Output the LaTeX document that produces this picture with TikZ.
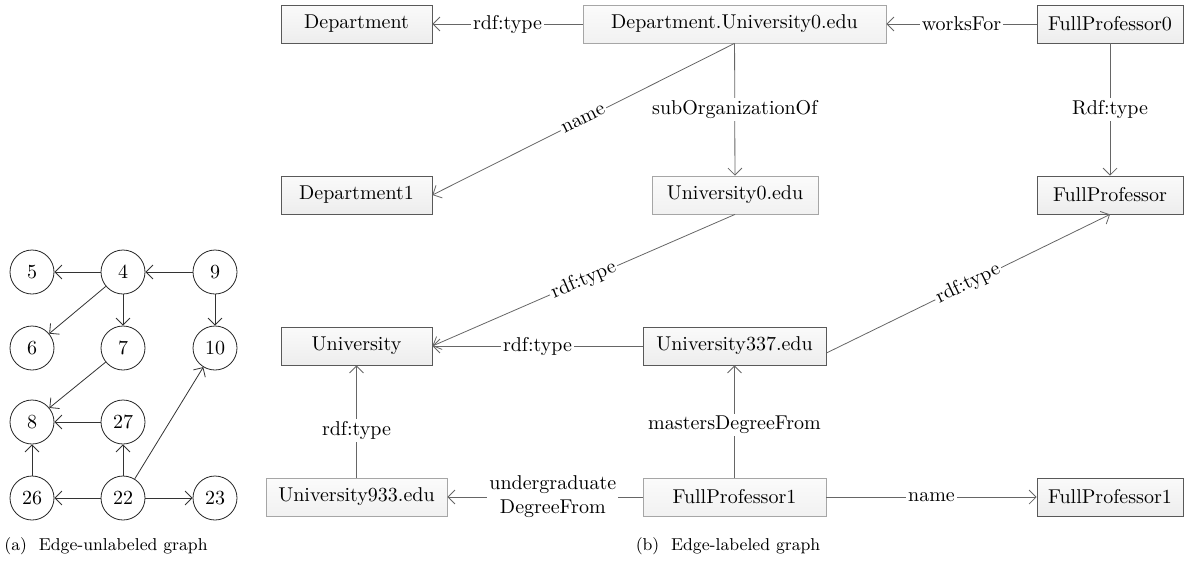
\documentclass[tikz,border=0pt]{standalone}
\usepackage{tikz}
\usetikzlibrary{arrows.meta}

\tikzset{
  vertex/.style={circle,draw=black!85,fill=white,minimum size=22pt,inner sep=0pt},
  res/.style={draw=black!65,top color=gray!4,bottom color=gray!14,minimum height=19pt,inner sep=2pt},
  lit/.style={draw=black!35,top color=gray!3,bottom color=gray!11,minimum height=19pt,inner sep=2pt},
  uedge/.style={draw=black!80,-{Straight Barb[length=3.5pt,width=7pt]}},
  ledge/.style={draw=black!60,-{Straight Barb[length=3.5pt,width=7pt]}},
  lab/.style={fill=white,inner sep=1pt},
  capt/.style={font=\fontsize{8.6}{10}\selectfont}
}

\begin{document}
\begin{tikzpicture}[x=0.5pt,y=-0.5pt]
\useasboundingbox (0,0) rectangle (1186,569);
% (a) edge-unlabeled graph
\node[vertex] (v5) at (32,272) {5};
\node[vertex] (v4) at (123,272) {4};
\node[vertex] (v9) at (215,272) {9};
\node[vertex] (v6) at (32,348) {6};
\node[vertex] (v7) at (123,348) {7};
\node[vertex] (v10) at (215,348) {10};
\node[vertex] (v8) at (32,422) {8};
\node[vertex] (v27) at (123,422) {27};
\node[vertex] (v26) at (32,498) {26};
\node[vertex] (v22) at (123,498) {22};
\node[vertex] (v23) at (215,498) {23};
\foreach \a/\b in {v4/v5,v9/v4,v4/v6,v4/v7,v9/v10,v7/v8,v27/v8,v26/v8,v22/v26,v22/v27,v22/v10,v22/v23}
  \draw[uedge] (\a) -- (\b);
\node[capt] (capa) at (106,546) {(a)\ \ Edge-unlabeled graph};

% (b) edge-labeled graph
\node[res,minimum width=75.5pt] (dept) at (356.5,24) {Department};
\node[lit,minimum width=151.5pt] (deptu) at (734.5,24) {Department.University0.edu};
\node[res,minimum width=73pt] (fp0) at (1110,24) {FullProfessor0};
\node[res,minimum width=75.5pt] (dept1) at (356.5,195) {Department1};
\node[lit,minimum width=83pt] (univ0) at (735,195) {University0.edu};
\node[res,minimum width=73pt] (fprof) at (1110,195) {FullProfessor};
\node[res,minimum width=75.5pt] (univ) at (356.5,346) {University};
\node[res,minimum width=91.5pt] (u337) at (734.5,346) {University337.edu};
\node[lit,minimum width=90.5pt] (u933) at (356.5,497) {University933.edu};
\node[lit,minimum width=91.5pt] (fp1) at (734.5,497) {FullProfessor1};
\node[res,minimum width=73pt] (fp1name) at (1110,497) {FullProfessor1};

\draw[ledge] (deptu) -- node[lab] {rdf:type} (dept);
\draw[ledge] (fp0) -- node[lab] {worksFor} (deptu);
\draw[ledge] (deptu.south) -- node[lab,sloped] {name} (dept1.east);
\draw[ledge] (deptu) -- node[lab] {subOrganizationOf} (univ0);
\draw[ledge] (fp0) -- node[lab] {Rdf:type} (fprof);
\draw[ledge] (univ0.south) -- node[lab,sloped] {rdf:type} (univ.east);
\draw[ledge] (u337) -- node[lab] {rdf:type} (univ);
\draw[ledge] ([yshift=-3.5pt]u337.east) -- node[lab,sloped] {rdf:type} (fprof.south);
\draw[ledge] (u933) -- node[lab,pos=0.42] {rdf:type} (univ);
\draw[ledge] (fp1) -- node[lab,pos=0.47] {mastersDegreeFrom} (u337);
\draw[ledge] (fp1) -- node[lab,pos=0.46,align=center] {undergraduate\\DegreeFrom} (u933);
\draw[ledge] (fp1) -- node[lab] {name} (fp1name);
\node[capt] (capb) at (728,546) {(b)\ \ Edge-labeled graph};
\end{tikzpicture}
\end{document}
